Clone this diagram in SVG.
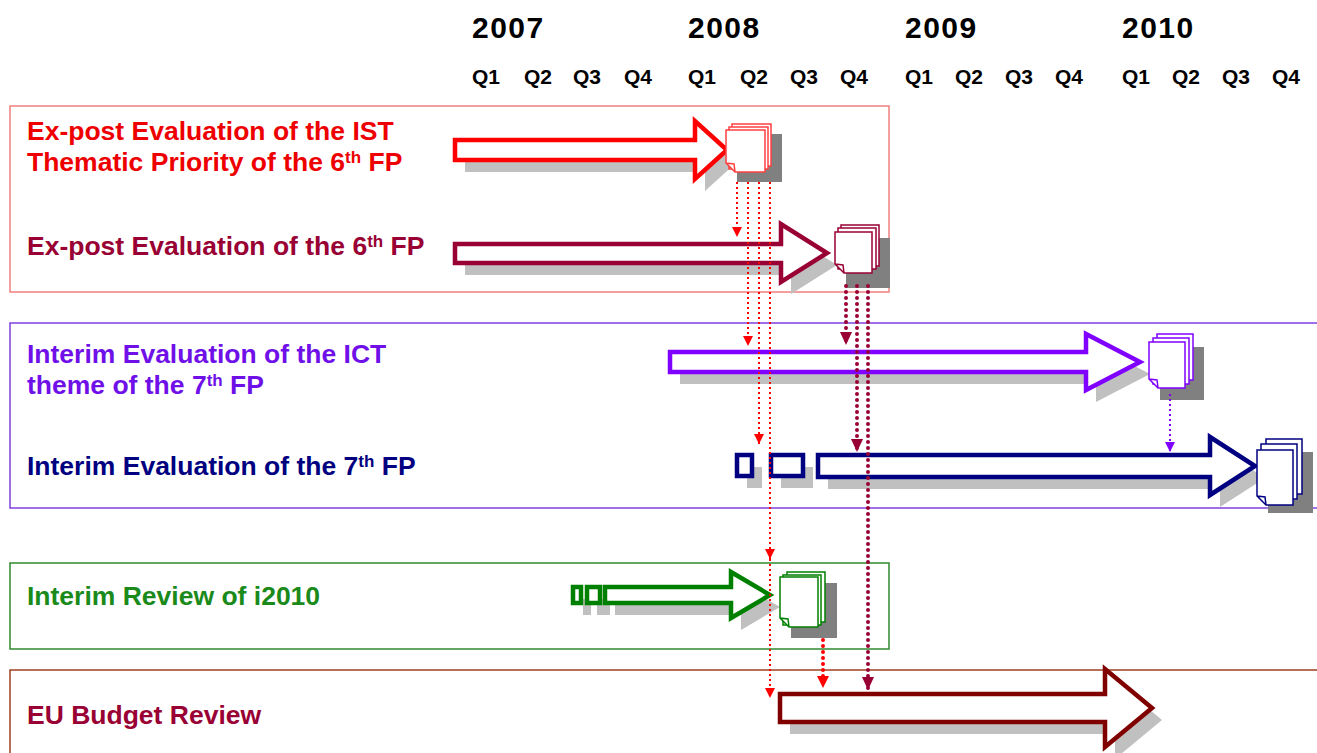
<svg xmlns="http://www.w3.org/2000/svg" width="1317" height="753" viewBox="0 0 1317 753">
<style>
text{font-family:"Liberation Sans",Arial,sans-serif;font-weight:bold}
.yr{font-size:30px;fill:#000;letter-spacing:1.5px}
.q{font-size:21px;fill:#000}
.lbl{font-size:26.5px}
.sup{font-size:17px}
.box{fill:none;stroke-width:1.5}
.arr{fill:#fff;stroke-width:4.5;stroke-linejoin:miter}
.sh{fill:#c0c0c0}
.dsh{fill:#808080}
.page{fill:#fff;stroke-width:1.5}
.dot{fill:none;stroke-width:2;stroke-dasharray:2 3}
.dotb{fill:none;stroke-width:4;stroke-dasharray:0 6;stroke-linecap:round}
</style>
<defs>
<marker id="mr" markerWidth="10" markerHeight="10" refX="10" refY="5" orient="auto" markerUnits="userSpaceOnUse"><path d="M0,0 L10,5 L0,10 Z" fill="#ff0000"/></marker>
<marker id="mrb" markerWidth="12" markerHeight="12" refX="12" refY="6" orient="auto" markerUnits="userSpaceOnUse"><path d="M0,0 L12,6 L0,12 Z" fill="#ff0000"/></marker>
<marker id="mm" markerWidth="13" markerHeight="12" refX="13" refY="6" orient="auto" markerUnits="userSpaceOnUse"><path d="M0,0 L13,6 L0,12 Z" fill="#990033"/></marker>
<marker id="mp" markerWidth="10" markerHeight="10" refX="10" refY="5" orient="auto" markerUnits="userSpaceOnUse"><path d="M0,0 L10,5 L0,10 Z" fill="#8000ff"/></marker>
</defs>
<rect width="1317" height="753" fill="#fff"/>

<g id="timeline">
<text class="yr" x="472" y="38">2007</text>
<text class="yr" x="688" y="38">2008</text>
<text class="yr" x="905" y="38">2009</text>
<text class="yr" x="1122" y="38">2010</text>
<text class="q" x="472" y="84">Q1</text><text class="q" x="524" y="84">Q2</text><text class="q" x="573" y="84">Q3</text><text class="q" x="624" y="84">Q4</text>
<text class="q" x="688" y="84">Q1</text><text class="q" x="740" y="84">Q2</text><text class="q" x="790" y="84">Q3</text><text class="q" x="840" y="84">Q4</text>
<text class="q" x="905" y="84">Q1</text><text class="q" x="955" y="84">Q2</text><text class="q" x="1005" y="84">Q3</text><text class="q" x="1055" y="84">Q4</text>
<text class="q" x="1122" y="84">Q1</text><text class="q" x="1172" y="84">Q2</text><text class="q" x="1222" y="84">Q3</text><text class="q" x="1272" y="84">Q4</text>
</g>

<g id="box-fp6">
<rect class="box" x="10" y="106" width="879" height="186" stroke="#f08080"/>
</g>
<g id="box-fp7">
<rect class="box" x="10" y="323" width="1320" height="185" stroke="#8040e0"/>
</g>
<g id="box-i2010">
<rect class="box" x="10" y="563" width="879" height="86" stroke="#2e8b2e"/>
</g>
<g id="box-budget">
<rect class="box" x="10" y="670" width="1320" height="100" stroke="#a04020"/>
</g>

<g id="ist-eval">
<text class="lbl" x="27" y="140" fill="#ee0000">Ex-post Evaluation of the IST</text>
<text class="lbl" x="27" y="171" fill="#ee0000">Thematic Priority of the 6<tspan class="sup" dy="-8">th</tspan><tspan dy="8"> FP</tspan></text>
<path class="sh" transform="translate(10,12)" d="M455,140 H695 V121 L727,150 L695,179 V160 H455 Z"/>
<path class="arr" stroke="#ff0000" d="M455,140 H695 V121 L727,150 L695,179 V160 H455 Z"/>
<rect class="dsh" x="737" y="134" width="45" height="48"/>
<rect class="page" x="732" y="124" width="39" height="42" stroke="#ff4040"/>
<rect class="page" x="729" y="127" width="39" height="42" stroke="#ff4040"/>
<path class="page" stroke="#ff4040" d="M726,130 H765 V172 H735 L726,163 Z M726,163 L734,164 L735,172"/>
</g>

<g id="fp6-eval">
<text class="lbl" x="27" y="255" fill="#990033">Ex-post Evaluation of the 6<tspan class="sup" dy="-8">th</tspan><tspan dy="8"> FP</tspan></text>
<path class="sh" transform="translate(10,12)" d="M455,244 H781 V224 L827,253 L781,282 V263 H455 Z"/>
<path class="arr" stroke="#990033" d="M455,244 H781 V224 L827,253 L781,282 V263 H455 Z"/>
<rect class="dsh" x="846" y="238" width="44" height="50"/>
<rect class="page" x="841" y="225" width="38" height="41" stroke="#990033"/>
<rect class="page" x="838" y="228" width="38" height="41" stroke="#990033"/>
<path class="page" stroke="#990033" d="M835,232 H872 V273 H844 L835,264 Z M835,264 L843,265 L844,273"/>
</g>

<g id="ict-eval">
<text class="lbl" x="27" y="363" fill="#7010e8">Interim Evaluation of the ICT</text>
<text class="lbl" x="27" y="394" fill="#7010e8">theme of the 7<tspan class="sup" dy="-8">th</tspan><tspan dy="8"> FP</tspan></text>
<path class="sh" transform="translate(10,12)" d="M670,352 H1086 V334 L1140,362 L1086,390 V372 H670 Z"/>
<path class="arr" stroke="#8000ff" d="M670,352 H1086 V334 L1140,362 L1086,390 V372 H670 Z"/>
<rect class="dsh" x="1160" y="347" width="44" height="53"/>
<rect class="page" x="1157" y="334" width="36" height="46" stroke="#8000ff"/>
<rect class="page" x="1153" y="338" width="36" height="46" stroke="#8000ff"/>
<path class="page" stroke="#8000ff" d="M1149,342 H1185 V388 H1158 L1149,379 Z M1149,379 L1157,380 L1158,388"/>
</g>

<g id="fp7-eval">
<text class="lbl" x="27" y="475" fill="#000080">Interim Evaluation of the 7<tspan class="sup" dy="-8">th</tspan><tspan dy="8"> FP</tspan></text>
<rect class="sh" x="747" y="467" width="15" height="21"/>
<rect class="sh" x="781" y="467" width="32" height="21"/>
<path class="sh" transform="translate(10,12)" d="M818,455 H1210 V437 L1255,466 L1210,495 V477 H818 Z"/>
<rect class="arr" stroke="#000080" x="737" y="455" width="15" height="21"/>
<rect class="arr" stroke="#000080" x="771" y="455" width="32" height="21"/>
<path class="arr" stroke="#000080" d="M818,455 H1210 V437 L1255,466 L1210,495 V477 H818 Z"/>
<rect class="dsh" x="1268" y="452" width="45" height="61"/>
<rect class="page" x="1266" y="439" width="36" height="55" stroke="#000080"/>
<rect class="page" x="1261" y="444" width="36" height="55" stroke="#000080"/>
<path class="page" stroke="#000080" d="M1257,450 H1293 V505 H1266 L1257,496 Z M1257,496 L1265,497 L1266,505"/>
</g>

<g id="i2010-review">
<text class="lbl" x="27" y="605" fill="#1a8a1a">Interim Review of i2010</text>
<rect class="sh" x="583" y="599" width="8" height="16"/>
<rect class="sh" x="597" y="599" width="13" height="16"/>
<path class="sh" transform="translate(10,12)" d="M605,587 H731 V572 L770,595 L731,618 V603 H605 Z"/>
<rect class="arr" stroke="#008000" x="573" y="587" width="8" height="16"/>
<rect class="arr" stroke="#008000" x="587" y="587" width="13" height="16"/>
<path class="arr" stroke="#008000" d="M605,587 H731 V572 L770,595 L731,618 V603 H605 Z"/>
<rect class="dsh" x="791" y="583" width="46" height="55"/>
<rect class="page" x="787" y="572" width="38" height="50" stroke="#008000"/>
<rect class="page" x="783" y="575" width="38" height="50" stroke="#008000"/>
<path class="page" stroke="#008000" d="M780,577 H818 V627 H789 L780,618 Z M780,618 L788,619 L789,627"/>
</g>

<g id="eu-budget">
<text class="lbl" x="27" y="724" fill="#990033">EU Budget Review</text>
<path class="sh" transform="translate(10,12)" d="M780,694 H1105 V669 L1152,708 L1105,747 V722 H780 Z"/>
<path class="arr" stroke="#800000" stroke-width="5" d="M780,694 H1105 V669 L1152,708 L1105,747 V722 H780 Z"/>
</g>

<g id="connectors">
<path class="dot" stroke="#ff0000" d="M737,182 V237" marker-end="url(#mr)"/>
<path class="dot" stroke="#ff0000" d="M748,182 V346" marker-end="url(#mr)"/>
<path class="dot" stroke="#ff0000" d="M759,182 V444" marker-end="url(#mr)"/>
<path class="dot" stroke="#ff0000" d="M770,182 V559" marker-end="url(#mr)"/>
<path class="dot" stroke="#ff0000" d="M770,559 V698" marker-end="url(#mr)"/>
<path class="dotb" stroke="#990033" d="M846,286 V345" marker-end="url(#mm)"/>
<path class="dotb" stroke="#990033" stroke-width="3.5" d="M857,286 V452" marker-end="url(#mm)"/>
<path class="dotb" stroke="#990033" stroke-width="3" d="M868,286 V690" marker-end="url(#mm)"/>
<path class="dotb" stroke="#ff0000" d="M823,640 V688" marker-end="url(#mrb)"/>
<path class="dot" stroke="#8000ff" d="M1170,394 V452" marker-end="url(#mp)"/>
</g>
</svg>
